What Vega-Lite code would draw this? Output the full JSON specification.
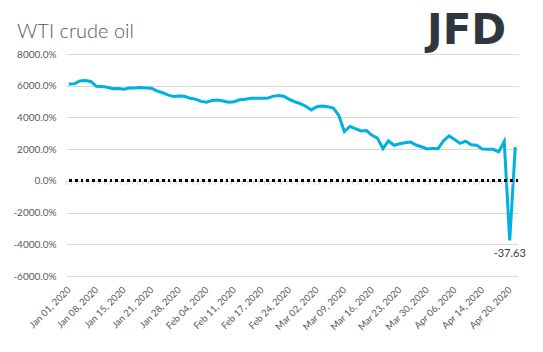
{
  "$schema": "https://vega.github.io/schema/vega-lite/v6.json",
  "width": 452,
  "height": 222,
  "autosize": {"type": "none"},
  "padding": {"left": 66, "top": 54, "right": 25, "bottom": 76},
  "background": "white",
  "config": {
    "view": {"stroke": null},
    "font": "Lato",
    "locale": {"number": {"decimal": ".", "thousands": ",", "grouping": [3], "currency": ["$", ""], "minus": "-"}}
  },
  "title": {"text": "WTI crude oil", "anchor": "start", "frame": "group", "dx": -49, "offset": -32, "fontSize": 20, "fontWeight": 300, "color": "#595959", "font": "Lato"},
  "datasets": {
    "wti": [
    {"date": "Jan 01, 2020", "price": 61.06},
    {"date": "Jan 02, 2020", "price": 61.18},
    {"date": "Jan 03, 2020", "price": 63.05},
    {"date": "Jan 06, 2020", "price": 63.27},
    {"date": "Jan 07, 2020", "price": 62.70},
    {"date": "Jan 08, 2020", "price": 59.61},
    {"date": "Jan 09, 2020", "price": 59.56},
    {"date": "Jan 10, 2020", "price": 59.04},
    {"date": "Jan 13, 2020", "price": 58.08},
    {"date": "Jan 14, 2020", "price": 58.23},
    {"date": "Jan 15, 2020", "price": 57.81},
    {"date": "Jan 16, 2020", "price": 58.52},
    {"date": "Jan 17, 2020", "price": 58.54},
    {"date": "Jan 18, 2020", "price": 58.8},
    {"date": "Jan 20, 2020", "price": 58.54},
    {"date": "Jan 21, 2020", "price": 58.34},
    {"date": "Jan 22, 2020", "price": 56.74},
    {"date": "Jan 23, 2020", "price": 55.59},
    {"date": "Jan 24, 2020", "price": 54.19},
    {"date": "Jan 27, 2020", "price": 53.14},
    {"date": "Jan 28, 2020", "price": 53.48},
    {"date": "Jan 29, 2020", "price": 53.33},
    {"date": "Jan 30, 2020", "price": 52.14},
    {"date": "Jan 31, 2020", "price": 51.56},
    {"date": "Feb 03, 2020", "price": 50.11},
    {"date": "Feb 04, 2020", "price": 49.61},
    {"date": "Feb 05, 2020", "price": 50.75},
    {"date": "Feb 06, 2020", "price": 50.95},
    {"date": "Feb 07, 2020", "price": 50.32},
    {"date": "Feb 10, 2020", "price": 49.57},
    {"date": "Feb 11, 2020", "price": 49.94},
    {"date": "Feb 12, 2020", "price": 51.17},
    {"date": "Feb 13, 2020", "price": 51.42},
    {"date": "Feb 14, 2020", "price": 52.05},
    {"date": "Feb 15, 2020", "price": 52.05},
    {"date": "Feb 17, 2020", "price": 52.05},
    {"date": "Feb 18, 2020", "price": 52.05},
    {"date": "Feb 19, 2020", "price": 53.29},
    {"date": "Feb 20, 2020", "price": 53.78},
    {"date": "Feb 21, 2020", "price": 53.38},
    {"date": "Feb 24, 2020", "price": 51.43},
    {"date": "Feb 25, 2020", "price": 49.90},
    {"date": "Feb 26, 2020", "price": 48.73},
    {"date": "Feb 27, 2020", "price": 47.09},
    {"date": "Feb 28, 2020", "price": 44.76},
    {"date": "Mar 02, 2020", "price": 46.75},
    {"date": "Mar 03, 2020", "price": 47.18},
    {"date": "Mar 04, 2020", "price": 46.78},
    {"date": "Mar 05, 2020", "price": 45.90},
    {"date": "Mar 06, 2020", "price": 41.28},
    {"date": "Mar 09, 2020", "price": 31.13},
    {"date": "Mar 10, 2020", "price": 34.36},
    {"date": "Mar 11, 2020", "price": 32.98},
    {"date": "Mar 12, 2020", "price": 31.50},
    {"date": "Mar 13, 2020", "price": 31.73},
    {"date": "Mar 16, 2020", "price": 28.70},
    {"date": "Mar 17, 2020", "price": 26.95},
    {"date": "Mar 18, 2020", "price": 20.37},
    {"date": "Mar 19, 2020", "price": 25.22},
    {"date": "Mar 20, 2020", "price": 22.43},
    {"date": "Mar 23, 2020", "price": 23.36},
    {"date": "Mar 24, 2020", "price": 24.01},
    {"date": "Mar 25, 2020", "price": 24.49},
    {"date": "Mar 26, 2020", "price": 22.60},
    {"date": "Mar 27, 2020", "price": 21.51},
    {"date": "Mar 30, 2020", "price": 20.09},
    {"date": "Mar 31, 2020", "price": 20.48},
    {"date": "Apr 01, 2020", "price": 20.31},
    {"date": "Apr 02, 2020", "price": 25.32},
    {"date": "Apr 03, 2020", "price": 28.34},
    {"date": "Apr 06, 2020", "price": 26.08},
    {"date": "Apr 07, 2020", "price": 23.63},
    {"date": "Apr 08, 2020", "price": 25.09},
    {"date": "Apr 09, 2020", "price": 22.76},
    {"date": "Apr 13, 2020", "price": 22.41},
    {"date": "Apr 14, 2020", "price": 20.11},
    {"date": "Apr 15, 2020", "price": 19.87},
    {"date": "Apr 16, 2020", "price": 19.87},
    {"date": "Apr 17, 2020", "price": 18.27},
    {"date": "Apr 19, 2020", "price": 24.8},
    {"date": "Apr 20, 2020", "price": -37.63},
    {"date": "Apr 21, 2020", "price": 21.3}
    ]
  },
  "data": {"name": "wti"},
  "layer": [
    {
      "mark": {"type": "line", "color": "#00b0e0", "strokeWidth": 3},
      "encoding": {
        "x": {
          "field": "date", "type": "ordinal", "sort": null,
          "scale": {"type": "point", "padding": 0.5},
          "axis": {
            "values": ["Jan 01, 2020", "Jan 08, 2020", "Jan 15, 2020", "Jan 21, 2020", "Jan 28, 2020", "Feb 04, 2020", "Feb 11, 2020", "Feb 17, 2020", "Feb 24, 2020", "Mar 02, 2020", "Mar 09, 2020", "Mar 16, 2020", "Mar 23, 2020", "Mar 30, 2020", "Apr 06, 2020", "Apr 14, 2020", "Apr 20, 2020"],
            "title": null, "domain": false, "ticks": false, "grid": false,
            "labelAngle": -45, "labelAlign": "right", "labelBaseline": "middle",
            "labelPadding": 12, "labelFontSize": 9.5, "labelColor": "#595959", "labelOverlap": false, "labelFont": "Lato"
          }
        },
        "y": {
          "field": "price", "type": "quantitative",
          "scale": {"domain": [-60, 80], "nice": false, "zero": false},
          "axis": {
            "values": [-60, -40, -20, 0, 20, 40, 60, 80], "tickCount": 20, "format": ".1%",
            "title": null, "domain": false, "ticks": false,
            "gridColor": "#d9d9d9", "gridWidth": 1, "labelOverlap": false,
            "labelFontSize": 10, "labelColor": "#595959", "labelPadding": 10, "labelFont": "Lato"
          }
        }
      }
    },
    {
      "mark": {"type": "tick", "orient": "vertical", "size": 4, "thickness": 1, "color": "#bfbfbf", "yOffset": 2, "xOffset": -2.76},
      "encoding": {
        "x": {"field": "date", "type": "ordinal", "sort": null},
        "y": {"datum": 0}
      }
    },
    {
      "mark": {"type": "rule", "color": "#000000", "strokeWidth": 2, "strokeDash": [2, 3.8]},
      "encoding": {"y": {"datum": 0}}
    },
    {
      "transform": [{"filter": "datum.price < 0"}],
      "mark": {"type": "text", "dy": 13, "fontSize": 11, "color": "#404040", "font": "Lato"},
      "encoding": {
        "x": {"field": "date", "type": "ordinal", "sort": null},
        "y": {"field": "price", "type": "quantitative"},
        "text": {"field": "price", "type": "quantitative", "format": ".2f"}
      }
    },
    {
      "transform": [{"filter": "datum.date == 'Apr 21, 2020'"}],
      "mark": {"type": "text", "text": "JFD", "align": "right", "baseline": "alphabetic", "dx": -9, "dy": -10, "fontSize": 42, "fontWeight": "bold", "color": "#30363d", "font": "DejaVu Sans"},
      "encoding": {
        "x": {"field": "date", "type": "ordinal", "sort": null},
        "y": {"datum": 80}
      }
    }
  ]
}
